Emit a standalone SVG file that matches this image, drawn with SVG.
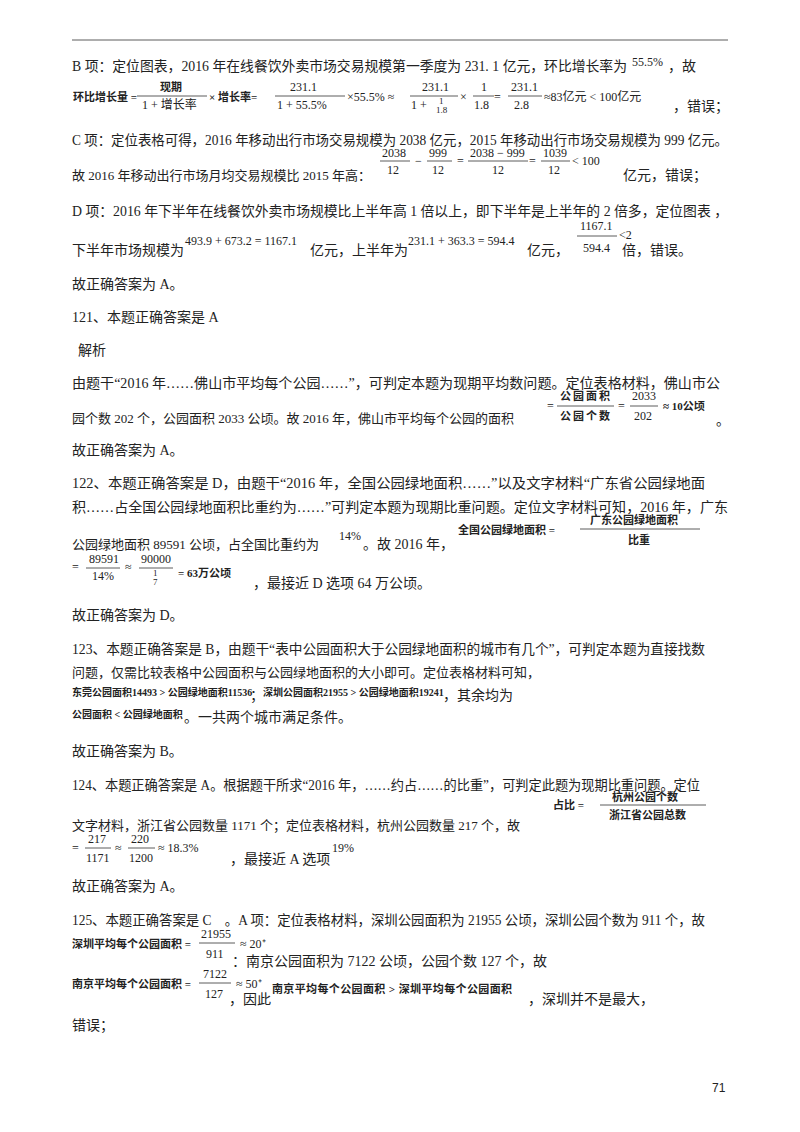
<svg xmlns="http://www.w3.org/2000/svg" width="800" height="1132" viewBox="0 0 800 1132">
<style>
text{font-family:"Liberation Serif","Noto Sans CJK SC",serif;font-size:14px;fill:#222}
.n{font-size:13px}
.m{font-size:12px}
.b{font-weight:bold;font-size:11px}
.bs{font-weight:bold;font-size:10px}
.s{font-size:9px}
line{stroke:#333;stroke-width:0.8}
</style>
<rect width="800" height="1132" fill="#fff"/>
<line x1="72" y1="40" x2="728" y2="40" stroke="#000" stroke-width="1"/>
<g id="b">
<text x="72" y="71" textLength="555" lengthAdjust="spacingAndGlyphs">B 项：定位图表，2016 年在线餐饮外卖市场交易规模第一季度为 231. 1 亿元，环比增长率为</text>
<text x="632" y="66" class="m">55.5%</text><text x="668" y="71">，故</text>
<text x="73" y="101" class="b">环比增长量 =</text>
<text x="160" y="91" class="b">现期</text><line x1="137" y1="96" x2="207" y2="96"/><text x="142" y="109" class="m">1 + 增长率</text>
<text x="209" y="101" class="b">× 增长率=</text>
<text x="290" y="91" class="m">231.1</text><line x1="275" y1="96" x2="345" y2="96"/><text x="277" y="109" class="m">1 + 55.5%</text>
<text x="347" y="101" class="m">×55.5% ≈</text>
<text x="422" y="91" class="m">231.1</text><line x1="410" y1="96" x2="458" y2="96"/><text x="411" y="109" class="m">1 + </text><text x="439" y="104" class="s">1</text><text x="436" y="113" class="s">1.8</text>
<text x="460" y="101" class="m">×</text>
<text x="481" y="91" class="m">1</text><line x1="473" y1="96" x2="494" y2="96"/><text x="474" y="109" class="m">1.8</text><text x="494" y="101" class="m">=</text>
<text x="511" y="91" class="m">231.1</text><line x1="508" y1="96" x2="542" y2="96"/><text x="514" y="109" class="m">2.8</text>
<text x="544" y="101" class="m">≈83亿元 &lt; 100亿元</text>
<text x="673" y="111">，错误；</text>
</g>
<g id="c">
<text x="72" y="145" textLength="656" lengthAdjust="spacingAndGlyphs">C 项：定位表格可得，2016 年移动出行市场交易规模为 2038 亿元，2015 年移动出行市场交易规模为 999 亿元。</text>
<text x="382" y="157" class="m">2038</text><line x1="380" y1="161" x2="410" y2="161"/><text x="387" y="174" class="m">12</text>
<text x="415" y="165" class="m">−</text>
<text x="429" y="157" class="m">999</text><line x1="427" y1="161" x2="452" y2="161"/><text x="432" y="174" class="m">12</text>
<text x="457" y="165" class="m">=</text>
<text x="470" y="157" class="m">2038 − 999</text><line x1="468" y1="161" x2="528" y2="161"/><text x="492" y="174" class="m">12</text>
<text x="529" y="165" class="m">=</text>
<text x="543" y="157" class="m">1039</text><line x1="541" y1="161" x2="570" y2="161"/><text x="548" y="174" class="m">12</text>
<text x="572" y="165" class="m">&lt; 100</text>
<text x="72" y="180" class="n">故 2016 年移动出行市场月均交易规模比 2015 年高：</text>
<text x="623" y="180">亿元，错误；</text>
</g>
<g id="d">
<text x="72" y="216" textLength="656" lengthAdjust="spacingAndGlyphs">D 项：2016 年下半年在线餐饮外卖市场规模比上半年高 1 倍以上，即下半年是上半年的 2 倍多，定位图表 ，</text>
<text x="72" y="255">下半年市场规模为</text>
<text x="185" y="245" class="m">493.9 + 673.2 = 1167.1</text>
<text x="310" y="255">亿元，上半年为</text>
<text x="408" y="245" class="m">231.1 + 363.3 = 594.4</text>
<text x="527" y="255">亿元，</text>
<text x="580" y="230" class="m">1167.1</text><line x1="577" y1="236" x2="617" y2="236"/><text x="583" y="252" class="m">594.4</text>
<text x="619" y="239" class="m">&lt;2</text>
<text x="622" y="255">倍，错误。</text>
<text x="72" y="289">故正确答案为 A。</text>
</g>
<g id="q121">
<text x="72" y="322">121、本题正确答案是 A</text>
<text x="78" y="355">解析</text>
<text x="72" y="388" textLength="648" lengthAdjust="spacingAndGlyphs">由题干“2016 年……佛山市平均每个公园……”，可判定本题为现期平均数问题。定位表格材料，佛山市公</text>
<text x="547" y="410" class="m">=</text>
<text x="560" y="400" class="b" textLength="50">公园面积</text><line x1="557" y1="406" x2="614" y2="406"/><text x="560" y="420" class="b" textLength="50">公园个数</text>
<text x="618" y="410" class="m">=</text>
<text x="632" y="400" class="m">2033</text><line x1="630" y1="406" x2="658" y2="406"/><text x="634" y="420" class="m">202</text>
<text x="663" y="410" class="b">≈ 10公顷</text>
<text x="72" y="423" class="n">园个数 202 个，公园面积 2033 公顷。故 2016 年，佛山市平均每个公园的面积</text>
<text x="716" y="425">。</text>
<text x="72" y="455">故正确答案为 A。</text>
</g>
<g id="q122">
<text x="72" y="488" textLength="633" lengthAdjust="spacingAndGlyphs">122、本题正确答案是 D，由题干“2016 年，全国公园绿地面积……”以及文字材料“广东省公园绿地面</text>
<text x="72" y="512" textLength="656" lengthAdjust="spacingAndGlyphs">积……占全国公园绿地面积比重约为……”可判定本题为现期比重问题。定位文字材料可知，2016 年，广东</text>
<text x="72" y="549" class="n">公园绿地面积 89591 公顷，占全国比重约为</text>
<text x="339" y="540" class="m">14%</text><text x="363" y="549">。故 2016 年，</text>
<text x="458" y="534" class="b">全国公园绿地面积 =</text>
<text x="590" y="524" class="b">广东公园绿地面积</text><line x1="580" y1="529" x2="700" y2="529"/><text x="628" y="544" class="b">比重</text>
<text x="72" y="571" class="m">=</text>
<text x="89" y="563" class="m">89591</text><line x1="86" y1="568" x2="120" y2="568"/><text x="92" y="580" class="m">14%</text>
<text x="125" y="571" class="m">≈</text>
<text x="141" y="563" class="m">90000</text><line x1="139" y1="568" x2="173" y2="568"/><text x="153" y="576" class="s">1</text><text x="153" y="585" class="s">7</text>
<text x="178" y="577" class="b">= 63万公顷</text>
<text x="253" y="588">，最接近 D 选项 64 万公顷。</text>
<text x="72" y="620">故正确答案为 D。</text>
</g>
<g id="q123">
<text x="72" y="654" textLength="633" lengthAdjust="spacingAndGlyphs">123、本题正确答案是 B，由题干“表中公园面积大于公园绿地面积的城市有几个”，可判定本题为直接找数</text>
<text x="72" y="677" class="n">问题，仅需比较表格中公园面积与公园绿地面积的大小即可。定位表格材料可知，</text>
<text x="72" y="696" class="bs">东莞公园面积14493 &gt; 公园绿地面积11536</text>
<text x="250" y="700">；</text>
<text x="263" y="696" class="bs">深圳公园面积21955 &gt; 公园绿地面积19241</text>
<text x="443" y="700">，其余均为</text>
<text x="72" y="718" class="bs">公园面积 &lt; 公园绿地面积</text>
<text x="184" y="722">。一共两个城市满足条件。</text>
<text x="72" y="756">故正确答案为 B。</text>
</g>
<g id="q124">
<text x="72" y="790" textLength="628" lengthAdjust="spacingAndGlyphs">124、本题正确答案是 A。根据题干所求“2016 年，……约占……的比重”，可判定此题为现期比重问题。定位</text>
<text x="553" y="809" class="b">占比 =</text>
<text x="612" y="801" class="b">杭州公园个数</text><line x1="600" y1="805" x2="706" y2="805"/><text x="609" y="819" class="b">浙江省公园总数</text>
<text x="72" y="830" class="n">文字材料，浙江省公园数量 1171 个；定位表格材料，杭州公园数量 217 个，故</text>
<text x="72" y="852" class="m">=</text>
<text x="88" y="843" class="m">217</text><line x1="85" y1="848" x2="111" y2="848"/><text x="86" y="862" class="m">1171</text>
<text x="115" y="852" class="m">≈</text>
<text x="131" y="843" class="m">220</text><line x1="128" y1="848" x2="155" y2="848"/><text x="129" y="862" class="m">1200</text>
<text x="158" y="852" class="m">≈ 18.3%</text>
<text x="230" y="864">，最接近 A 选项</text>
<text x="332" y="852" class="m">19%</text>
<text x="72" y="891">故正确答案为 A。</text>
</g>
<g id="q125">
<text x="72" y="925" textLength="633" lengthAdjust="spacingAndGlyphs">125、本题正确答案是 C　。A 项：定位表格材料，深圳公园面积为 21955 公顷，深圳公园个数为 911 个，故</text>
<text x="72" y="948" class="b">深圳平均每个公园面积 =</text>
<text x="201" y="938" class="m">21955</text><line x1="199" y1="943" x2="235" y2="943"/><text x="206" y="958" class="m">911</text>
<text x="240" y="948" class="m">≈ 20⁺</text>
<text x="232" y="966">：南京公园面积为 7122 公顷，公园个数 127 个，故</text>
<text x="72" y="988" class="b">南京平均每个公园面积 =</text>
<text x="203" y="978" class="m">7122</text><line x1="199" y1="983" x2="231" y2="983"/><text x="205" y="998" class="m">127</text>
<text x="236" y="988" class="m">≈ 50⁺</text>
<text x="229" y="1004">，因此</text>
<text x="272" y="993" class="b" textLength="240" lengthAdjust="spacing">南京平均每个公园面积 &gt; 深圳平均每个公园面积</text>
<text x="528" y="1004">，深圳并不是最大，</text>
<text x="72" y="1030">错误；</text>
</g>
<text x="712" y="1092" style="font-family:'Liberation Sans',sans-serif;font-size:12px">71</text>
</svg>
